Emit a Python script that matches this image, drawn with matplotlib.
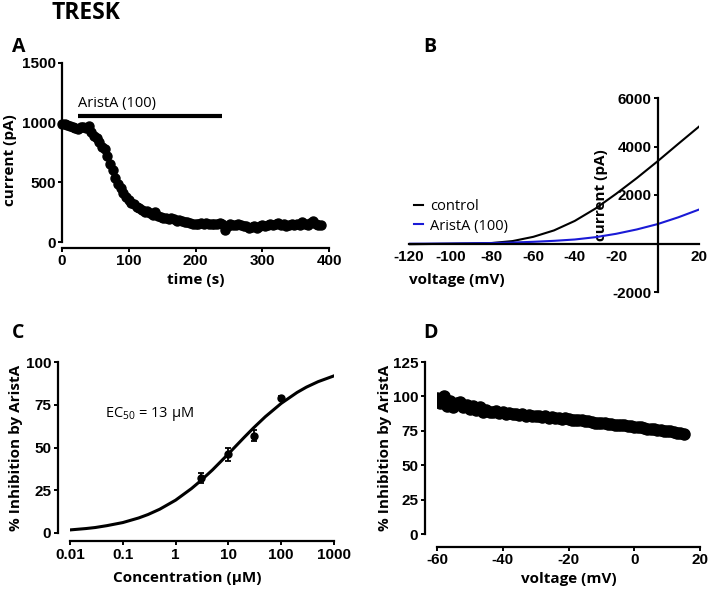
import matplotlib
matplotlib.use('Agg')
import matplotlib.pyplot as plt

W, H = 709, 589

# ---- Panel A: current vs time ----
time_s = [0, 4, 8, 12, 16, 20, 24, 28, 32, 36,
          40, 44, 48, 52, 56, 60, 64, 68, 72, 76,
          80, 84, 88, 92, 96, 100, 104, 108, 112, 116,
          120, 124, 128, 132, 136, 140, 144, 148, 152, 156,
          160, 164, 168, 172, 176, 180, 184, 188, 192, 196,
          200, 204, 208, 212, 216, 220, 224, 228, 232, 236,
          240, 244, 248, 252, 256, 260, 264, 268, 272, 276,
          280, 284, 288, 292, 296, 300, 304, 308, 312, 316,
          320, 324, 328, 332, 336, 340, 344, 348, 352, 356,
          360, 364, 368, 372, 376, 380, 384, 388]
current_pA = [990, 985, 980, 975, 965, 955, 945, 960, 965, 955,
              975, 920, 890, 870, 840, 800, 780, 720, 650, 600,
              540, 490, 450, 410, 380, 355, 330, 315, 290, 285,
              270, 255, 260, 240, 230, 250, 215, 210, 205, 200,
              195, 205, 190, 180, 185, 175, 170, 165, 160, 150,
              155, 150, 160, 150, 160, 155, 150, 155, 150, 160,
              150, 100, 130, 150, 145, 140, 150, 140, 130, 130,
              115, 125, 130, 120, 135, 140, 130, 140, 150, 140,
              155, 160, 145, 150, 130, 140, 150, 145, 150, 140,
              165, 150, 145, 160, 180, 150, 145, 140]
bar_start, bar_end, bar_level = 24, 240, 1055
bar_label = 'AristA (100)'

# ---- Panel B: I-V relation ----
volt_iv = [-120, -110, -100, -90, -80, -70, -60, -50, -40, -30, -20, -10, 0, 10, 20]
control_pA = [-30, -20, -10, 0, 20, 100, 275, 540, 930, 1440, 2050, 2700, 3390, 4110, 4820]
arista_pA = [-10, -5, 0, 10, 20, 40, 70, 110, 165, 260, 400, 580, 800, 1080, 1400]

# ---- Panel C: concentration-response ----
conc_uM = [3, 10, 30, 100]
inhib_mean = [32, 46, 57, 79]
inhib_sem = [3, 4, 3, 1]
fit_conc = [0.01, 0.02, 0.03, 0.05, 0.1, 0.2, 0.3, 0.5, 1, 2, 3, 5, 10, 20, 30, 50,
            100, 200, 300, 500, 1000]
fit_inhib = [1.8, 2.6, 3.2, 4.3, 6.1, 8.8, 10.8, 13.9, 19.2, 26.0, 30.6, 36.9, 46.3, 56.0,
             61.5, 68.0, 75.8, 82.2, 85.3, 88.5, 91.9]

# ---- Panel D: inhibition vs voltage ----
volt_d = [-60, -59, -58, -57, -56, -55, -54, -53, -52, -51,
          -50, -49, -48, -47, -46, -45, -44, -43, -42, -41,
          -40, -39, -38, -37, -36, -35, -34, -33, -32, -31,
          -30, -29, -28, -27, -26, -25, -24, -23, -22, -21,
          -20, -19, -18, -17, -16, -15, -14, -13, -12, -11,
          -10, -9, -8, -7, -6, -5, -4, -3, -2, -1,
          0, 1, 2, 3, 4, 5, 6, 7, 8, 9,
          10, 11, 12, 13, 14, 15]
inhib_d = [99, 95, 100, 93, 97, 92, 95, 96, 92, 94,
           91, 93, 90, 92, 89, 90, 89, 88.5, 89.5, 88,
           89, 87.5, 88, 87, 87.5, 86.5, 87, 86, 86.5, 85.5,
           86, 85.5, 85, 85.5, 84.5, 85, 84, 84.5, 83.5, 84,
           83.5, 83, 83, 82.5, 82.5, 82, 82, 81.5, 81, 81,
           80.5, 80.5, 80, 80, 79.5, 79.5, 79, 79, 78.5, 78.5,
           78, 77.5, 77.5, 77, 76.5, 76.5, 76, 75.5, 75.5, 75,
           74.5, 74.5, 74, 73.5, 73.5, 73]

plt.rcParams['font.family'] = 'Liberation Sans'
plt.rcParams['font.weight'] = 'bold'
plt.rcParams['font.size'] = 11
plt.rcParams['axes.unicode_minus'] = False
plt.rcParams['mathtext.fontset'] = 'custom'
plt.rcParams['mathtext.rm'] = 'Open Sans:weight=normal'
plt.rcParams['mathtext.it'] = 'Open Sans:italic:weight=normal'

LAB = dict(family='Open Sans', weight='bold', size=11)
REG = dict(family='Open Sans', weight='normal', size=10.5)


def rect(l, t, r, b):
    return [l / W, 1 - b / H, (r - l) / W, (b - t) / H]


def style(ax, left_out=0, bottom_out=0):
    for s in ['top', 'right']:
        ax.spines[s].set_visible(False)
    for s in ['left', 'bottom']:
        ax.spines[s].set_linewidth(1.6)
    ax.spines['left'].set_position(('outward', left_out))
    ax.spines['bottom'].set_position(('outward', bottom_out))
    ax.tick_params(direction='out', length=3, width=1.4, pad=1.5, labelsize=11)
    ax.patch.set_alpha(0)


fig = plt.figure(figsize=(W / 100, H / 100), dpi=100)

fig.text(52 / W, 1 - 13 / H, 'TRESK', family='Open Sans', weight='bold', size=16.5, va='center')
for letter, x, y in [('A', 12, 47), ('B', 423, 47), ('C', 12, 333), ('D', 423, 333)]:
    fig.text(x / W, 1 - y / H, letter, family='Open Sans', weight='bold', size=14, va='center')

# Panel A
ax = fig.add_axes(rect(62, 63, 329, 242))
ax.plot(time_s, current_pA, 'o', color='black', markersize=6.5, clip_on=False)
ax.plot([bar_start, bar_end], [bar_level, bar_level], color='black', lw=3, solid_capstyle='butt')
ax.text(bar_start, bar_level + 45, bar_label, va='bottom', **REG)
ax.set_xlim(0, 400)
ax.set_ylim(0, 1500)
ax.set_xticks([0, 100, 200, 300, 400])
ax.set_yticks([0, 500, 1000, 1500])
style(ax, 0, 4)
ax.set_xlabel('time (s)', **LAB)
ax.set_ylabel('current (pA)', **LAB)
ax.xaxis.set_label_coords(0.5, -0.175)
ax.yaxis.set_label_coords(-0.17, 0.46)

# Panel B
ax = fig.add_axes(rect(409, 98, 699, 292))
ax.plot(volt_iv, control_pA, color='black', lw=1.5, label='control')
ax.plot(volt_iv, arista_pA, color='#1a1ad6', lw=1.5, label='AristA (100)')
ax.set_xlim(-120, 20)
ax.set_ylim(-2000, 6000)
ax.set_xticks([-120, -100, -80, -60, -40, -20, 20])
ax.set_yticks([-2000, 2000, 4000, 6000])
style(ax)
ax.spines['left'].set_position(('data', 0))
ax.spines['bottom'].set_position(('data', 0))
ax.tick_params(axis='x', length=0, pad=5)
ax.set_xlabel('voltage (mV)', **LAB)
ax.set_ylabel('current (pA)', **LAB)
ax.xaxis.set_label_coords(0.166, 0.10)
ax.yaxis.set_label_coords(0.686, 0.5)
ax.legend(loc='upper left', bbox_to_anchor=(401 / W, 1 - 186 / H), bbox_transform=fig.transFigure,
          frameon=False, handlelength=0.6, handletextpad=0.5, labelspacing=0.3, prop=REG)

# Panel C
ax = fig.add_axes(rect(70, 362, 334, 533))
ax.errorbar(conc_uM, inhib_mean, yerr=inhib_sem, fmt='o', color='black', markersize=5,
            capsize=2.5, elinewidth=1.3, capthick=1.3)
ax.plot(fit_conc, fit_inhib, color='black', lw=2.2)
ax.set_xscale('log')
ax.set_xlim(0.01, 1000)
ax.set_ylim(0, 100)
ax.set_xticks([0.01, 0.1, 1, 10, 100, 1000])
ax.set_xticklabels(['0.01', '0.1', '1', '10', '100', '1000'])
ax.minorticks_off()
ax.set_yticks([0, 25, 50, 75, 100])
style(ax, 9, 6)
ax.set_xlabel('Concentration (µM)', **LAB)
ax.set_ylabel('% Inhibition by AristA', **LAB)
ax.xaxis.set_label_coords(0.445, -0.225)
ax.yaxis.set_label_coords(-0.178, 0.5)
fig.text(105 / W, 1 - 414 / H, r'EC$_{\mathrm{50}}$ = 13 µM', va='center', **REG)

# Panel D
ax = fig.add_axes(rect(437, 362, 700, 534))
ax.plot(volt_d, inhib_d, 'o', color='black', markersize=8)
ax.set_xlim(-60, 20)
ax.set_ylim(0, 125)
ax.set_xticks([-60, -40, -20, 0, 20])
ax.set_yticks([0, 25, 50, 75, 100, 125])
style(ax, 9, 9)
ax.set_xlabel('voltage (mV)', **LAB)
ax.set_ylabel('% Inhibition by AristA', **LAB)
ax.xaxis.set_label_coords(0.5, -0.22)
ax.yaxis.set_label_coords(-0.171, 0.5)

fig.savefig('out.png', dpi=100)
